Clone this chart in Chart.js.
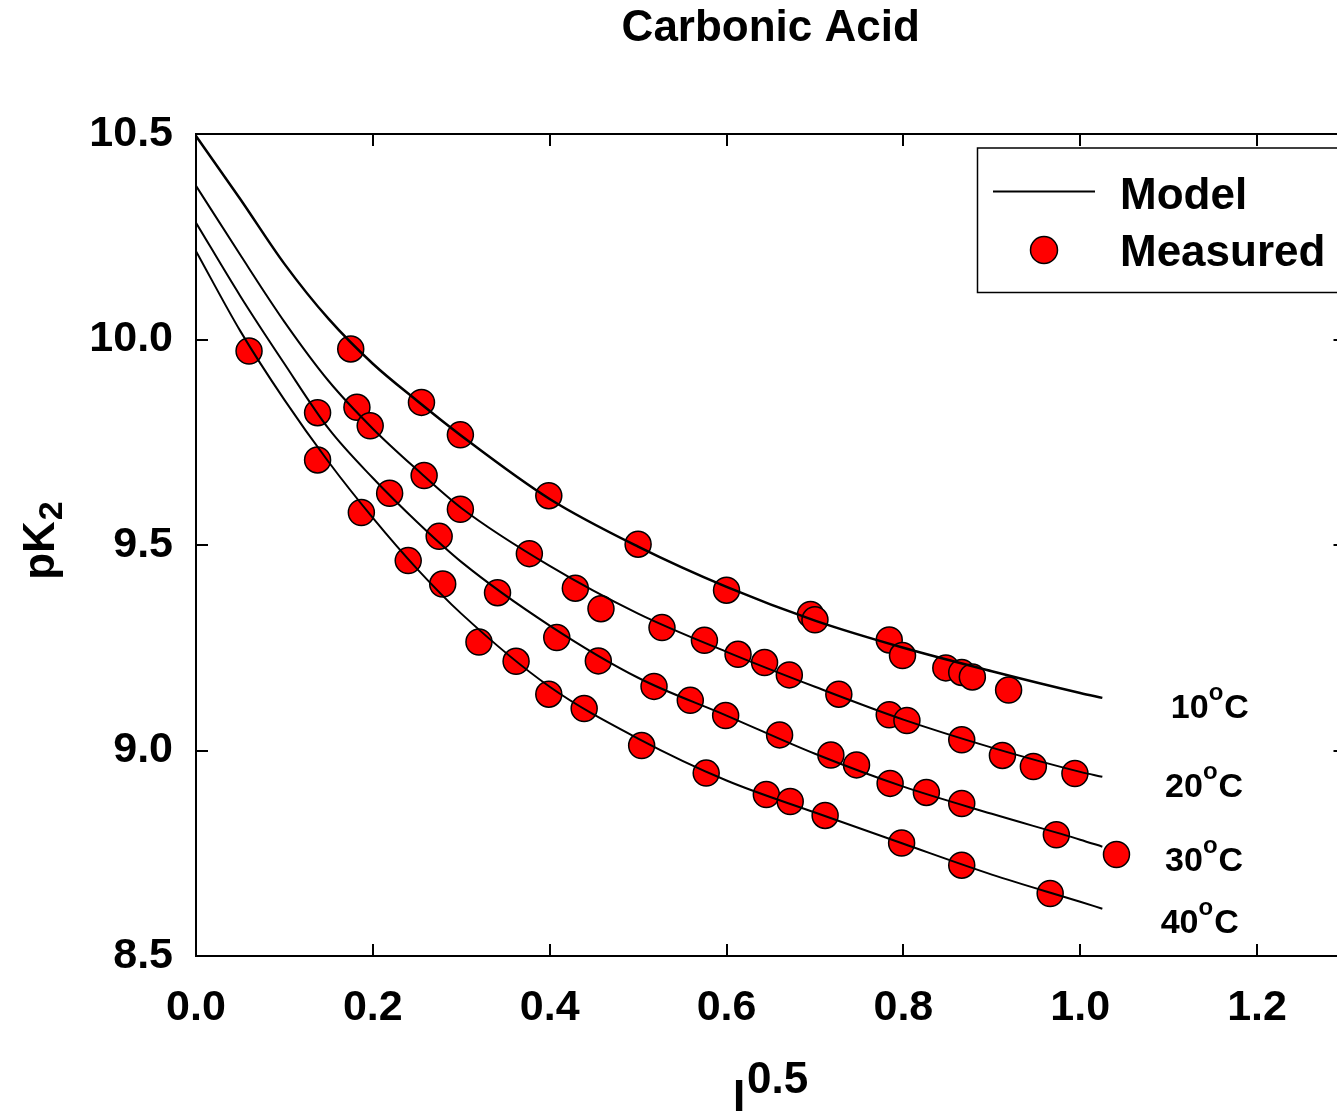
<!DOCTYPE html>
<html>
<head>
<meta charset="utf-8">
<title>Carbonic Acid</title>
<script src="https://cdn.jsdelivr.net/npm/chart.js@4.4.1/dist/chart.umd.min.js"></script>
<style>
  html, body { margin: 0; padding: 0; background: #fff; overflow: hidden; }
  #wrap { width: 1337px; height: 1113px; overflow: hidden; }
</style>
</head>
<body>
<div id="wrap"><canvas id="pk2" width="1360" height="1113"></canvas></div>
<script>
// model curves, sampled along I^0.5
const modelX  = [0, 0.05, 0.1, 0.15, 0.2, 0.25, 0.3, 0.4, 0.5, 0.6, 0.7, 0.8, 0.9, 1.0, 1.025];
const model10 = [10.495, 10.342, 10.184, 10.050, 9.941, 9.851, 9.766, 9.612, 9.496, 9.398, 9.316, 9.250, 9.193, 9.140, 9.128];
const model20 = [10.374, 10.206, 10.043, 9.899, 9.783, 9.683, 9.590, 9.449, 9.333, 9.240, 9.155, 9.075, 9.007, 8.948, 8.936];
const model30 = [10.284, 10.106, 9.941, 9.783, 9.663, 9.556, 9.459, 9.304, 9.177, 9.085, 8.992, 8.912, 8.846, 8.783, 8.766];
const model40 = [10.215, 10.021, 9.853, 9.702, 9.566, 9.442, 9.333, 9.155, 9.029, 8.927, 8.849, 8.773, 8.698, 8.632, 8.615];

// measured pK2 values
const meas10X = [0.175, 0.255, 0.299, 0.399, 0.500, 0.600, 0.695, 0.700, 0.784, 0.799, 0.848, 0.866, 0.878, 0.919];
const meas10Y = [9.977, 9.847, 9.768, 9.620, 9.502, 9.390, 9.331, 9.318, 9.269, 9.231, 9.201, 9.190, 9.179, 9.147];
const meas20X = [0.182, 0.197, 0.258, 0.299, 0.377, 0.429, 0.458, 0.527, 0.575, 0.613, 0.643, 0.671, 0.727, 0.784, 0.804, 0.866, 0.912, 0.947, 0.994];
const meas20Y = [9.835, 9.790, 9.669, 9.587, 9.479, 9.395, 9.345, 9.299, 9.268, 9.234, 9.214, 9.184, 9.137, 9.087, 9.073, 9.026, 8.988, 8.961, 8.944];
const meas30X = [0.1375, 0.219, 0.275, 0.341, 0.408, 0.455, 0.518, 0.559, 0.599, 0.660, 0.718, 0.747, 0.785, 0.826, 0.866, 0.973, 1.041];
const meas30Y = [9.822, 9.626, 9.521, 9.384, 9.275, 9.218, 9.156, 9.122, 9.085, 9.038, 8.989, 8.965, 8.920, 8.898, 8.871, 8.795, 8.747];
const meas40X = [0.060, 0.1375, 0.187, 0.240, 0.279, 0.320, 0.362, 0.399, 0.439, 0.504, 0.577, 0.645, 0.672, 0.7115, 0.798, 0.866, 0.966];
const meas40Y = [9.972, 9.707, 9.579, 9.462, 9.405, 9.264, 9.217, 9.137, 9.102, 9.012, 8.945, 8.893, 8.876, 8.842, 8.775, 8.721, 8.652];

const temps = ['10', '20', '30', '40'];

const FONT = '"Liberation Sans", Arial, sans-serif';
const pts = (xs, ys) => xs.map((x, i) => ({ x: x, y: ys[i] }));

const modelSets = [model10, model20, model30, model40].map((ys, i) => ({
    type: 'line',
    label: 'Model ' + temps[i],
    data: pts(modelX, ys),
    borderColor: '#000',
    borderWidth: i === 0 ? 2.5 : 2,
    pointRadius: 0,
    fill: false,
    cubicInterpolationMode: 'monotone',
    order: 0
}));

const measSets = [[meas10X, meas10Y], [meas20X, meas20Y], [meas30X, meas30Y], [meas40X, meas40Y]].map(([xs, ys], i) => ({
    type: 'scatter',
    label: 'Measured ' + temps[i],
    data: pts(xs, ys),
    backgroundColor: '#ff0000',
    borderColor: '#000',
    borderWidth: 1.5,
    pointRadius: 13,
    pointHoverRadius: 13,
    order: 1
}));

// where each temperature tag sits (data units, left edge / baseline)
const tagPos = [
    { x: 1.1025, y: 9.080 },
    { x: 1.096,  y: 8.888 },
    { x: 1.096,  y: 8.706 },
    { x: 1.091,  y: 8.557 }
];

// axis frame: inward ticks on all four sides
const frame = (axis, pos, min, max, step, showLabels, size) => ({
    type: 'linear',
    axis: axis,
    position: pos,
    min: min,
    max: max,
    grid: { drawOnChartArea: false, drawTicks: true, tickLength: -12, color: '#000', lineWidth: 2 },
    border: { display: true, color: '#000', width: 2 },
    ticks: {
        display: showLabels,
        stepSize: step,
        includeBounds: false,
        maxRotation: 0,
        autoSkip: false,
        color: '#000',
        padding: axis === 'x' ? 38 : 35,
        font: { family: FONT, size: 43, weight: 'bold' },
        callback: v => v.toFixed(1)
    },
    afterFit: s => {
        if (axis === 'x') s.height = size; else s.width = size;
    }
});

const annotate = {
    id: 'annotate',
    afterDraw(chart) {
        const { ctx, chartArea: a, scales } = chart;
        ctx.save();
        ctx.fillStyle = '#000';
        ctx.strokeStyle = '#000';
        ctx.textBaseline = 'alphabetic';

        // title
        ctx.font = 'bold 44px ' + FONT;
        ctx.textAlign = 'center';
        ctx.fillText('Carbonic Acid', (a.left + a.right) / 2, 41);

        // x axis title: I^0.5
        ctx.textAlign = 'left';
        ctx.fillText('I', 733, 1111);
        ctx.fillText('0.5', 747, 1093);

        // y axis title: pK2
        ctx.save();
        ctx.translate(54, (a.top + a.bottom) / 2 - 4);
        ctx.rotate(-Math.PI / 2);
        ctx.font = 'bold 44px ' + FONT;
        const w1 = ctx.measureText('pK').width;
        ctx.font = 'bold 34px ' + FONT;
        const w2 = ctx.measureText('2').width;
        const start = -(w1 + w2) / 2;
        ctx.font = 'bold 44px ' + FONT;
        ctx.fillText('pK', start, 0);
        ctx.font = 'bold 34px ' + FONT;
        ctx.fillText('2', start + w1 + 1, 8);
        ctx.restore();

        // temperature tags at the end of each curve
        temps.forEach((t, i) => {
            let px = scales.x.getPixelForValue(tagPos[i].x);
            const py = scales.y.getPixelForValue(tagPos[i].y);
            ctx.font = 'bold 34px ' + FONT;
            ctx.fillText(t, px, py);
            px += ctx.measureText(t).width;
            ctx.font = 'bold 24px ' + FONT;
            ctx.fillText('o', px, py - 18);
            px += ctx.measureText('o').width + 1;
            ctx.font = 'bold 34px ' + FONT;
            ctx.fillText('C', px, py);
        });

        // legend box
        ctx.lineWidth = 1.5;
        ctx.strokeRect(977.5, 148, a.right - 2 - 977.5, 144.5);
        ctx.lineWidth = 2;
        ctx.beginPath();
        ctx.moveTo(993, 191.5);
        ctx.lineTo(1095, 191.5);
        ctx.stroke();
        ctx.beginPath();
        ctx.arc(1044, 250, 13.5, 0, Math.PI * 2);
        ctx.fillStyle = '#ff0000';
        ctx.fill();
        ctx.lineWidth = 1.5;
        ctx.stroke();
        ctx.fillStyle = '#000';
        ctx.font = 'bold 44px ' + FONT;
        ctx.fillText('Model', 1120, 209);
        ctx.fillText('Measured', 1120, 266);

        ctx.restore();
    }
};

new Chart(document.getElementById('pk2'), {
    type: 'scatter',
    data: { datasets: [...modelSets, ...measSets] },
    options: {
        responsive: false,
        animation: false,
        layout: { padding: { top: 134, right: 13.5, left: 0, bottom: 0 } },
        plugins: {
            legend: { display: false },
            title: { display: false },
            tooltip: { enabled: false }
        },
        scales: {
            x:  frame('x', 'bottom', 0, 1.3, 0.2, true, 157),
            x2: frame('x', 'top', 0, 1.3, 0.2, false, 0),
            y:  frame('y', 'left', 8.5, 10.5, 0.5, true, 196),
            y2: frame('y', 'right', 8.5, 10.5, 0.5, false, 0)
        }
    },
    plugins: [annotate]
});
</script>
</body>
</html>
